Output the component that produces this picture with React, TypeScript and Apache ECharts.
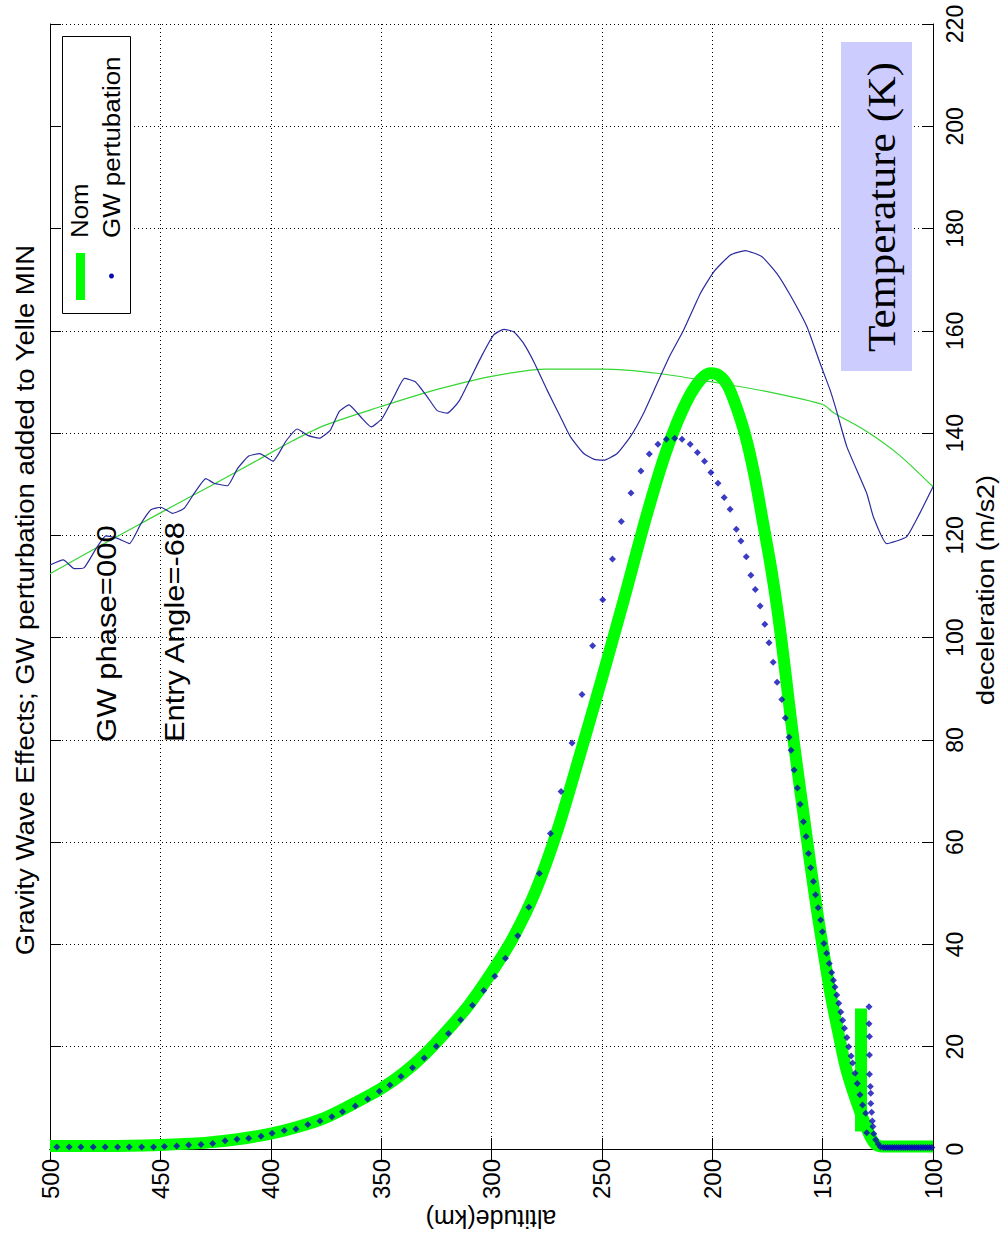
import React, { useEffect, useRef } from "react";
import * as echarts from "echarts";

// Nominal deceleration profile (thick green), altitude in km, deceleration in m/s2
const nomAltitude = [500, 475, 450, 430, 415, 400, 388, 376, 365, 350, 340, 330, 320, 310, 300, 290, 280, 270, 260, 250, 240, 230, 222, 216, 210, 205, 201, 197, 193, 189, 185, 181, 177, 173.5, 170.5, 167.5, 164.5, 161.5, 158.5, 155.5, 152.5, 149.5, 146.5, 143, 139.5, 136, 133, 130.5, 128.5, 126, 123, 100];
const nomDecel = [0.6, 0.6, 0.8, 1.2, 1.9, 3, 4.3, 6, 8.3, 11.8, 14.8, 18.6, 23.2, 28.3, 34.5, 41.5, 50.5, 62.5, 77, 92, 107.5, 123.5, 135, 142, 147.5, 150.6, 151.7, 151.3, 149.3, 145, 139.5, 132, 122.5, 114, 105.5, 95.5, 84.5, 74.5, 65, 55.5, 46.5, 38.3, 30.5, 23, 16, 11, 7.3, 4.6, 2.5, 0.9, 0.5, 0.5];

// Short nominal segment near 132 km
const nomSpikeAltitude = [132.6, 132.6];
const nomSpikeDecel = [27.5, 3.4];

// Deceleration with gravity-wave perturbation (blue dots)
const gwAltitude = [496.9, 491.3, 486, 480.4, 475, 469.4, 464.1, 458.5, 453.1, 448.2, 442.6, 437.2, 431.6, 426.3, 420.7, 415.3, 410, 404.4, 399.4, 393.9, 388.6, 383.2, 377.7, 372.3, 367.5, 361.7, 356.1, 350.8, 346, 341, 335.8, 330.5, 325, 319.5, 314, 308.6, 303.5, 298.5, 293.7, 288.1, 283.1, 278.3, 273.3, 268.5, 263.5, 259, 254.2, 249.6, 245.2, 241.2, 236.8, 232.3, 228.5, 224.6, 220.8, 217, 213.7, 210, 206.7, 203.5, 200.6, 197.4, 194.6, 191.9, 189.1, 187, 184.6, 182.5, 180.5, 178.3, 176.2, 174.3, 172.4, 170.6, 168.5, 166.9, 165.2, 164.3, 162.9, 161.4, 160.2, 158.7, 157.5, 156.4, 155.4, 154.2, 153.2, 152, 150.9, 150.1, 149.4, 148.2, 147, 145.9, 145.1, 144.4, 143.6, 142.7, 141.8, 140.9, 140.1, 139, 138.2, 137.1, 136.4, 135.3, 134.3, 133.1, 131.9, 130.5, 130, 129, 129, 128.8, 128.8, 128.8, 128.4, 128.2, 128.2, 127.8, 127.5, 127.2, 126.8, 126, 124.8, 123.8, 122.5, 121.5, 120.5, 119.5, 118.5, 117.5, 116.5, 115.5, 114.5, 113.5, 112.5, 111.5, 110.5, 109.5, 108.5, 107.5, 106.5, 105.5, 104.5, 103.5, 102.5, 101.5, 100.5];
const gwDecel = [0.4, 0.4, 0.4, 0.4, 0.4, 0.4, 0.4, 0.4, 0.4, 0.5, 0.6, 0.8, 0.9, 1.1, 1.6, 1.9, 2.1, 2.5, 3.1, 3.6, 3.9, 4.8, 5.5, 6.3, 7.3, 8.4, 9.8, 11.3, 12.5, 14.2, 15.9, 17.8, 20.1, 22.6, 25.3, 28.1, 31, 33.8, 37.3, 41.7, 47.3, 53.9, 61.7, 69.9, 79.4, 88.9, 98.4, 107.4, 115.4, 122.7, 128.3, 132.6, 135.9, 137.8, 138.8, 139, 138.8, 137.8, 136.2, 134.5, 132.3, 130.2, 127.4, 125.1, 121.2, 118.9, 115.8, 112.2, 109.4, 106.2, 102.6, 99, 95.2, 91.3, 87.9, 84.3, 80.5, 78, 74.1, 70.6, 67.4, 64, 61.1, 57.8, 55, 52.3, 49.7, 47.2, 44.8, 42.5, 40.2, 38.3, 36.3, 34.5, 33, 31.7, 30.1, 28.5, 26.8, 25.2, 23.6, 21.8, 20, 18.2, 16.8, 14.8, 12.8, 10.6, 8.6, 7, 3.2, 27.8, 24.5, 22, 18.4, 14.6, 12.2, 10.9, 8.9, 7.2, 5.5, 4.4, 3, 1.8, 1, 0.4, 0.3, 0.3, 0.3, 0.3, 0.3, 0.3, 0.3, 0.3, 0.3, 0.3, 0.3, 0.3, 0.3, 0.3, 0.3, 0.3, 0.3, 0.3, 0.3, 0.3, 0.3, 0.3, 0.3];

// Temperature profiles, drawn against the same vertical scale
const tempNomAltitude = [500, 475, 450, 425, 406, 390, 375, 350, 325, 300, 275, 250, 225, 200, 175, 150, 145, 130, 115, 100];
const tempNomValue = [112.5, 118.5, 124.4, 130.2, 134.7, 138.5, 141.6, 145.2, 148.5, 151.1, 152.5, 152.5, 151.7, 150, 148.1, 145.6, 144, 140.3, 135.6, 129.5];

const tempGwAltitude = [500, 494, 489, 484.5, 479, 474.7, 469.4, 464, 458.8, 454.3, 449.8, 444.5, 439.2, 434.7, 429.4, 425.7, 419.6, 415, 410, 405, 399, 393, 388, 383, 378, 373, 369, 364.6, 359.3, 354.5, 349.5, 344.2, 339.4, 334.4, 329.1, 324.6, 320, 314.8, 309.5, 304.2, 299, 294.4, 289.9, 285.4, 280.9, 274.8, 268.8, 264.3, 258.2, 253.7, 249.2, 243.1, 237.1, 231.1, 225, 219, 213, 205.4, 199.4, 191.9, 185, 177.5, 170.7, 164.7, 157.1, 151.1, 146.6, 143.6, 139, 130, 127, 121, 112, 106, 100];
const tempGwValue = [114.2, 115.2, 113.5, 113.7, 117.5, 119.9, 119.4, 118.4, 122.3, 125, 125.5, 124.3, 125.3, 128.2, 131.1, 130.2, 129.7, 133.1, 135.5, 136, 134.5, 138.5, 140.8, 139.5, 139, 140.6, 144.2, 145.5, 143.2, 141.2, 142.9, 147.1, 150.7, 150, 147.1, 144.4, 143.9, 146.2, 150.7, 155.3, 159.2, 160.3, 159.8, 157.5, 154, 148.4, 143.2, 139.3, 136, 134.9, 134.7, 136, 139.3, 143.9, 149.7, 155.3, 160.1, 167.3, 171.5, 174.8, 175.7, 174.5, 171.2, 167, 160.8, 153.6, 148.4, 144.2, 137.3, 128.2, 123.6, 118.4, 119.7, 124.3, 129.5];

const pairs = (xs: number[], ys: number[]) => xs.map((x, i) => [x, ys[i]]);

const SANS = '"Liberation Sans", Arial, Helvetica, sans-serif';
const SERIF = '"Liberation Serif", "Times New Roman", serif';
const GRID = { left: 50, right: 75, top: 24, bottom: 93 };
const UP = Math.PI / 2;

// Rotated text; stretch widens glyphs along the reading direction
function rotText(x: number, y: number, text: string, size: number, rotation: number, align: string, stretch = 1, family = SANS) {
  return {
    type: "text",
    x,
    y,
    rotation,
    scaleX: stretch,
    z: 100,
    style: {
      text,
      fontSize: size,
      fontFamily: family,
      fill: "#000",
      align,
      textAlign: align,
      verticalAlign: "middle",
      textVerticalAlign: "middle",
    },
  };
}

export default function App() {
  const ref = useRef<HTMLDivElement>(null);

  useEffect(() => {
    document.body.style.margin = "0";
    if (!ref.current) return;
    const chart = echarts.init(ref.current, null, { renderer: "svg" });

    const tickInside = { show: true, inside: true, length: 11, lineStyle: { color: "#000", width: 1 } };
    const axisLine = { show: true, lineStyle: { color: "#000", width: 1 } };
    const dotted = { show: true, lineStyle: { color: "#000", width: 1, type: [1, 3] } };
    const labelStyle = { fontFamily: SANS, fontSize: 24, color: "#000", rotate: 90, margin: 10 };

    chart.setOption({
      animation: false,
      backgroundColor: "#fff",
      grid: GRID,
      xAxis: [
        {
          type: "value", min: 100, max: 500, interval: 50, inverse: true, position: "bottom",
          axisLine, axisTick: tickInside, splitLine: dotted, axisLabel: labelStyle,
        },
        {
          type: "value", min: 100, max: 500, interval: 50, inverse: true, position: "top",
          axisLine, axisTick: tickInside, splitLine: { show: false }, axisLabel: { show: false },
        },
      ],
      yAxis: [
        {
          type: "value", min: 0, max: 220, interval: 20, position: "right",
          axisLine, axisTick: tickInside, splitLine: dotted, axisLabel: { ...labelStyle, fontSize: 23 },
        },
        {
          type: "value", min: 0, max: 220, interval: 20, position: "left",
          axisLine, axisTick: tickInside, splitLine: { show: false }, axisLabel: { show: false },
        },
      ],
      series: [
        {
          name: "Nom", type: "line", data: pairs(nomAltitude, nomDecel), showSymbol: false, smooth: 0.3,
          lineStyle: { color: "#00ff00", width: 12, cap: "butt", join: "round" }, z: 2, clip: true,
        },
        {
          name: "Nom", type: "line", data: pairs(nomSpikeAltitude, nomSpikeDecel), showSymbol: false,
          lineStyle: { color: "#00ff00", width: 12, cap: "butt" }, z: 2,
        },
        {
          name: "GW pertubation", type: "scatter", data: pairs(gwAltitude, gwDecel), symbol: "diamond", symbolSize: 7,
          itemStyle: { color: "#0a0ab4" }, z: 3, clip: true,
        },
        {
          name: "Temperature Nom", type: "line", data: pairs(tempNomAltitude, tempNomValue), showSymbol: false, smooth: 0.3,
          lineStyle: { color: "#33d633", width: 1.2 }, z: 4,
        },
        {
          name: "Temperature GW", type: "line", data: pairs(tempGwAltitude, tempGwValue), showSymbol: false, smooth: 0.15,
          lineStyle: { color: "#2b2b9e", width: 1.2 }, z: 4,
        },
      ],
      graphic: [
        rotText(25, 600, "Gravity Wave Effects; GW perturbation added to Yelle MIN", 25, UP, "center", 1.1),
        rotText(491, 1219, "altitude(km)", 25, Math.PI, "center"),
        rotText(986, 590, "deceleration (m/s2)", 24, UP, "center", 1.12),
        rotText(106, 742, "GW phase=000", 28, UP, "left", 1.11),
        rotText(174, 742, "Entry Angle=-68", 28, UP, "left", 1.1),
        // legend box
        { type: "rect", z: 90, shape: { x: 62.5, y: 36.5, width: 68, height: 277 }, style: { fill: "#fff", stroke: "#000", lineWidth: 1 } },
        { type: "rect", z: 91, shape: { x: 76, y: 253, width: 9, height: 47 }, style: { fill: "#00ff00" } },
        { type: "circle", z: 91, shape: { cx: 111.5, cy: 276, r: 2.5 }, style: { fill: "#0a0ab4" } },
        rotText(79, 238, "Nom", 24, UP, "left", 1.08),
        rotText(111, 238, "GW pertubation", 24, UP, "left", 1.08),
        // temperature caption
        { type: "rect", z: 90, shape: { x: 841, y: 42, width: 71, height: 329 }, style: { fill: "#ccccff" } },
        rotText(881, 207, "Temperature (K)", 41, UP, "center", 1.06, SERIF),
      ],
    });

    return () => chart.dispose();
  }, []);

  return <div ref={ref} style={{ width: 1008, height: 1242 }} />;
}
